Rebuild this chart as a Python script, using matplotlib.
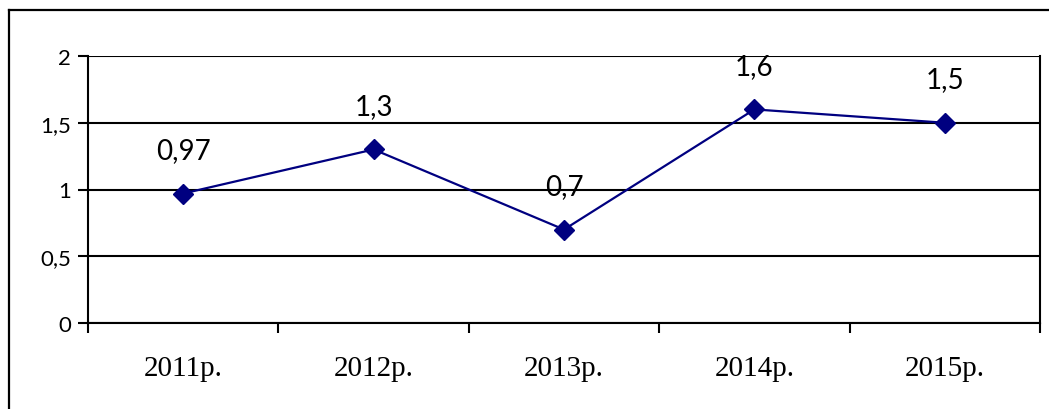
import matplotlib.pyplot as plt
from matplotlib.lines import Line2D

years = ['2011р.', '2012р.', '2013р.', '2014р.', '2015р.']
values = [0.97, 1.3, 0.7, 1.6, 1.5]
labels = ['0,97', '1,3', '0,7', '1,6', '1,5']
yticks = [0, 0.5, 1, 1.5, 2]
ytick_labels = ['0', '0,5', '1', '1,5', '2']

fig = plt.figure(figsize=(10.49, 4.10), dpi=100)
ax = fig.add_axes([88 / 1049, 1 - 324 / 410, (1040 - 88) / 1049, (324 - 57) / 410])

# outer frame (only left and top visible in the crop)
fig.add_artist(Line2D([9 / 1049, 9 / 1049], [0, 1 - 11 / 410], color='black', lw=1.6, transform=fig.transFigure))
fig.add_artist(Line2D([9 / 1049, 1], [1 - 11 / 410, 1 - 11 / 410], color='black', lw=1.6, transform=fig.transFigure))

x = list(range(len(years)))
ax.plot(x, values, color='#000080', lw=1.6, marker='D', markersize=10.5, zorder=3)

for xi, v, lab in zip(x, values, labels):
    ax.annotate(lab, (xi, v), xytext=(0, 22), textcoords='offset points',
                ha='center', va='bottom', fontsize=20, family='Lato')

ax.set_xlim(-0.5, len(years) - 0.5)
ax.set_ylim(0, 2)
ax.set_yticks(yticks)
ax.set_yticklabels(ytick_labels, family='Lato', fontsize=16)
ax.yaxis.grid(True, color='black', lw=1.5)
ax.set_axisbelow(True)

# category ticks between categories, labels centered
ax.set_xticks([i - 0.5 for i in range(len(years) + 1)])
ax.set_xticklabels([])
ax.set_xticks(x, minor=True)
ax.set_xticklabels(years, minor=True, family='Liberation Serif', fontsize=21)
ax.tick_params(axis='x', which='minor', length=0, pad=23)
ax.tick_params(axis='x', which='major', direction='out', length=7, width=1.5)
ax.tick_params(axis='y', direction='out', length=7, width=1.5, pad=5)

for s in ax.spines.values():
    s.set_linewidth(1.5)
ax.spines['top'].set_visible(False)

plt.savefig('out.png', dpi=100)
plt.close()
